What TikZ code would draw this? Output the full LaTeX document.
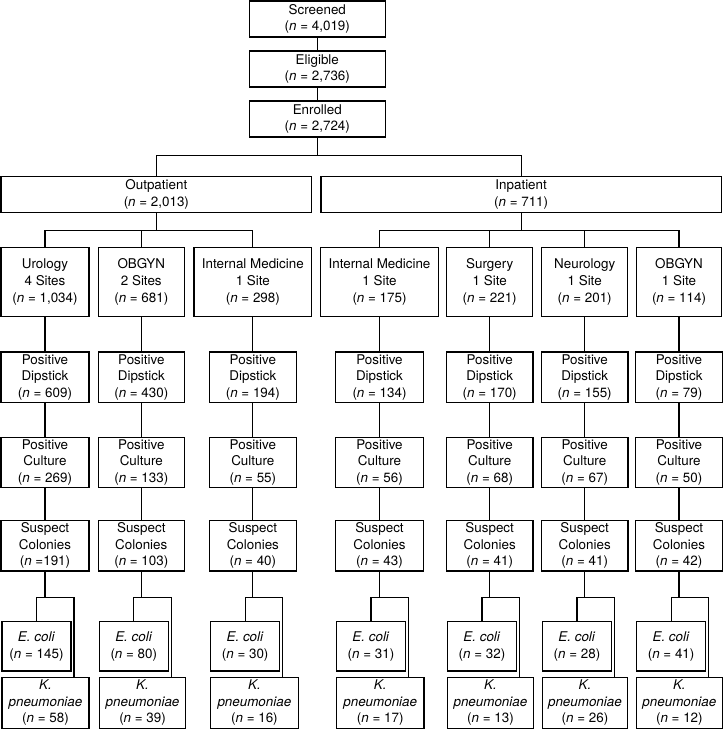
\documentclass[tikz,border=0pt]{standalone}
\usepackage{fontspec}
\setmainfont{TeX Gyre Heros}
\usetikzlibrary{positioning}
\usetikzlibrary{calc}

\tikzset{
  box/.style={draw, line width=1.1pt, outer sep=0pt, align=center, inner sep=0pt, font=\fontsize{13.4}{16.7}\selectfont},
  head/.style={box, minimum width=136pt, minimum height=36pt},
  ward/.style={box, anchor=north west, minimum height=35.6pt},
  site/.style={box, anchor=north west, minimum height=69.4pt},
  stage/.style={box, minimum height=50.6pt},
  eco/.style={box, anchor=north west, minimum width=69pt, minimum height=49.3pt},
  kpn/.style={box, anchor=north west, minimum height=51pt},
  link/.style={line width=1.1pt},
}

\begin{document}
\begin{tikzpicture}[x=1pt, y=-1pt]
    \useasboundingbox (0,0) rectangle (726,729);

    % enrolment
    \node[head, anchor=north] (scr) at (317.3,1) {Screened\\(\textit{n} = 4,019)};
    \node[head, below=14pt of scr] (eli) {Eligible\\(\textit{n} = 2,736)};
    \node[head, below=14pt of eli] (enr) {Enrolled\\(\textit{n} = 2,724)};

    \node[ward, minimum width=310.7pt] (out) at (1,176.7) {Outpatient\\(\textit{n} = 2,013)};
    \node[ward, minimum width=400.3pt] (inp) at (321,176.7) {Inpatient\\(\textit{n} = 711)};

    % sites
    \node[site, minimum width=88pt] (uro) at (1,247.3) {Urology\\4 Sites\\(\textit{n} = 1,034)};
    \node[site, minimum width=86pt] (obo) at (98.3,247.3) {OBGYN\\2 Sites\\(\textit{n} = 681)};
    \node[site, minimum width=117.7pt] (imo) at (194,247.3) {Internal Medicine\\1 Site\\(\textit{n} = 298)};
    \node[site, minimum width=117.6pt] (imi) at (320.7,247.3) {Internal Medicine\\1 Site\\(\textit{n} = 175)};
    \node[site, minimum width=86pt] (sur) at (446.7,247.3) {Surgery\\1 Site\\(\textit{n} = 221)};
    \node[site, minimum width=86pt] (neu) at (541.7,247.3) {Neurology\\1 Site\\(\textit{n} = 201)};
    \node[site, minimum width=85pt] (obi) at (636.5,247.3) {OBGYN\\1 Site\\(\textit{n} = 114)};

    % positive dipstick
    \node[stage, minimum width=88pt, below=35.3pt of uro] (uro1) {Positive\\Dipstick\\(\textit{n} = 609)};
    \node[stage, minimum width=86pt, below=35.3pt of obo] (obo1) {Positive\\Dipstick\\(\textit{n} = 430)};
    \node[stage, minimum width=86.4pt, below=35.3pt of imo] (imo1) {Positive\\Dipstick\\(\textit{n} = 194)};
    \node[stage, minimum width=88pt, below=35.3pt of imi] (imi1) {Positive\\Dipstick\\(\textit{n} = 134)};
    \node[stage, minimum width=86.5pt, below=35.3pt of sur] (sur1) {Positive\\Dipstick\\(\textit{n} = 170)};
    \node[stage, minimum width=86.5pt, below=35.3pt of neu] (neu1) {Positive\\Dipstick\\(\textit{n} = 155)};
    \node[stage, minimum width=86.8pt, below=35.3pt of obi] (obi1) {Positive\\Dipstick\\(\textit{n} = 79)};

    % positive culture
    \node[stage, minimum width=88pt, below=34.6pt of uro1] (uro2) {Positive\\Culture\\(\textit{n} = 269)};
    \node[stage, minimum width=86pt, below=34.6pt of obo1] (obo2) {Positive\\Culture\\(\textit{n} = 133)};
    \node[stage, minimum width=86.4pt, below=34.6pt of imo1] (imo2) {Positive\\Culture\\(\textit{n} = 55)};
    \node[stage, minimum width=88pt, below=34.6pt of imi1] (imi2) {Positive\\Culture\\(\textit{n} = 56)};
    \node[stage, minimum width=86.5pt, below=34.6pt of sur1] (sur2) {Positive\\Culture\\(\textit{n} = 68)};
    \node[stage, minimum width=86.5pt, below=34.6pt of neu1] (neu2) {Positive\\Culture\\(\textit{n} = 67)};
    \node[stage, minimum width=86.8pt, below=34.6pt of obi1] (obi2) {Positive\\Culture\\(\textit{n} = 50)};

    % suspect colonies
    \node[stage, minimum width=88pt, below=32.6pt of uro2] (uro3) {Suspect\\Colonies\\(\textit{n} =191)};
    \node[stage, minimum width=86pt, below=32.6pt of obo2] (obo3) {Suspect\\Colonies\\(\textit{n} = 103)};
    \node[stage, minimum width=86.4pt, below=32.6pt of imo2] (imo3) {Suspect\\Colonies\\(\textit{n} = 40)};
    \node[stage, minimum width=88pt, below=32.6pt of imi2] (imi3) {Suspect\\Colonies\\(\textit{n} = 43)};
    \node[stage, minimum width=86.5pt, below=32.6pt of sur2] (sur3) {Suspect\\Colonies\\(\textit{n} = 41)};
    \node[stage, minimum width=86.5pt, below=32.6pt of neu2] (neu3) {Suspect\\Colonies\\(\textit{n} = 41)};
    \node[stage, minimum width=86.8pt, below=32.6pt of obi2] (obi3) {Suspect\\Colonies\\(\textit{n} = 42)};

    % E. coli
    \node[eco] (uro4) at ($(uro3.south west)+(1,50.7)$) {\textit{E. coli}\\(\textit{n} = 145)};
    \node[eco] (obo4) at ($(obo3.south west)+(1,50.7)$) {\textit{E. coli}\\(\textit{n} = 80)};
    \node[eco] (imo4) at ($(imo3.south west)+(1,50.7)$) {\textit{E. coli}\\(\textit{n} = 30)};
    \node[eco] (imi4) at ($(imi3.south west)+(1,50.7)$) {\textit{E. coli}\\(\textit{n} = 31)};
    \node[eco] (sur4) at ($(sur3.south west)+(1,50.7)$) {\textit{E. coli}\\(\textit{n} = 32)};
    \node[eco] (neu4) at ($(neu3.south west)+(1,50.7)$) {\textit{E. coli}\\(\textit{n} = 28)};
    \node[eco] (obi4) at ($(obi3.south west)+(1,50.7)$) {\textit{E. coli}\\(\textit{n} = 41)};

    % K. pneumoniae
    \node[kpn, minimum width=87pt] (uro5) at ($(uro4.south west)+(0,6.3)$) {\textit{K.}\\\textit{pneumoniae}\\(\textit{n} = 58)};
    \node[kpn, minimum width=86.5pt] (obo5) at ($(obo4.south west)+(0,6.3)$) {\textit{K.}\\\textit{pneumoniae}\\(\textit{n} = 39)};
    \node[kpn, minimum width=87.5pt] (imo5) at ($(imo4.south west)+(0,6.3)$) {\textit{K.}\\\textit{pneumoniae}\\(\textit{n} = 16)};
    \node[kpn, minimum width=87.5pt] (imi5) at ($(imi4.south west)+(0,6.3)$) {\textit{K.}\\\textit{pneumoniae}\\(\textit{n} = 17)};
    \node[kpn, minimum width=86pt] (sur5) at ($(sur4.south west)+(0,6.3)$) {\textit{K.}\\\textit{pneumoniae}\\(\textit{n} = 13)};
    \node[kpn, minimum width=85pt] (neu5) at ($(neu4.south west)+(0,6.3)$) {\textit{K.}\\\textit{pneumoniae}\\(\textit{n} = 26)};
    \node[kpn, minimum width=85.5pt] (obi5) at ($(obi4.south west)+(0,6.3)$) {\textit{K.}\\\textit{pneumoniae}\\(\textit{n} = 12)};

    % connectors
    \draw[link] (scr) -- (eli);
    \draw[link] (eli) -- (enr);

    \coordinate (split) at ($(enr.south)+(0,18.4)$);
    \draw[link] (enr.south) -- (split);
    \draw[link] (out.north) |- (split) -| (inp.north);

    \coordinate (osplit) at ($(out.south)+(0,18.4)$);
    \draw[link] (out.south) -- (osplit);
    \draw[link] (uro.north) |- (osplit) -| (imo.north);
    \draw[link] (obo.north) -- (obo.north |- osplit);

    \coordinate (isplit) at ($(inp.south)+(0,18.4)$);
    \draw[link] (inp.south) -- (isplit);
    \draw[link] (imi.north) |- (isplit) -| (obi.north);
    \draw[link] (sur.north) -- (sur.north |- isplit);
    \draw[link] (neu.north) -- (neu.north |- isplit);

    \foreach \c in {uro, obo, imo, imi, sur, neu, obi} {
        \draw[link] (\c.south) -- (\c1.north);
        \draw[link] (\c1.south) -- (\c2.north);
        \draw[link] (\c2.south) -- (\c3.north);
        \coordinate (\c j) at ($(\c3.south)+(0,26.3)$);
        \draw[link] (\c3.south) -- (\c j);
        \draw[link] (\c4.north) |- ($(\c4.east |- \c j)+(3,0)$) -- ($(\c4.east |- \c5.north)+(3,0)$);
    }
\end{tikzpicture}
\end{document}
